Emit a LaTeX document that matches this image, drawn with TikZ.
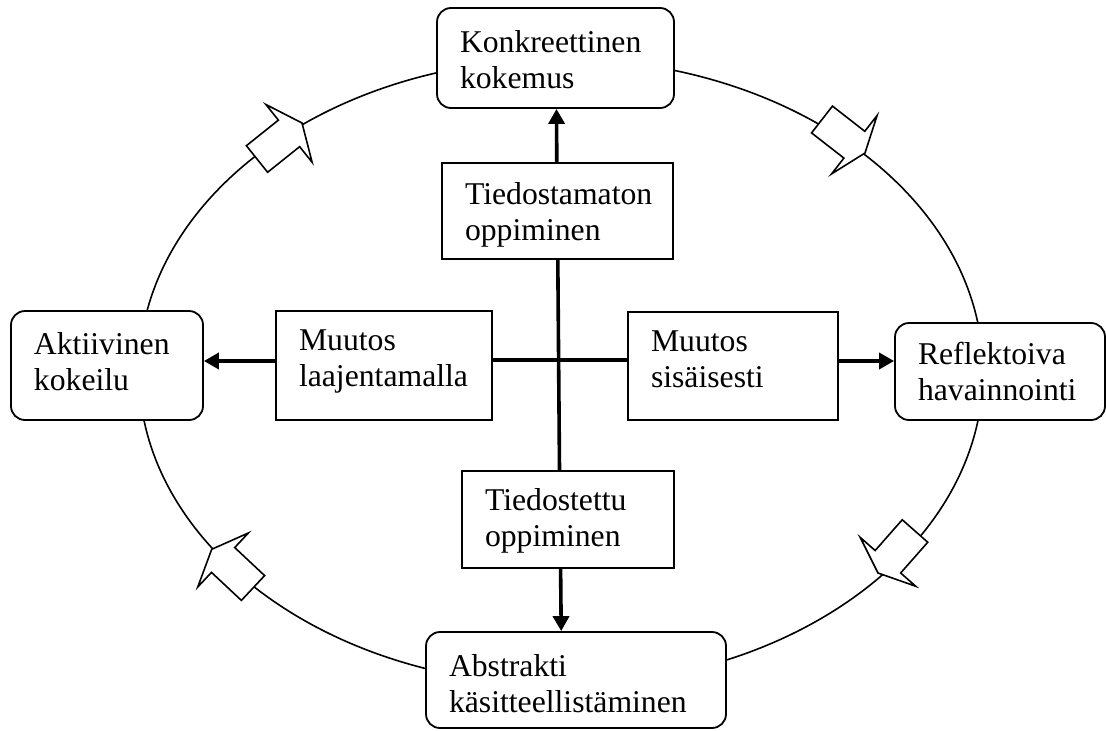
\documentclass[tikz,border=0pt]{standalone}
\usepackage{fontspec}
\setmainfont{Liberation Serif}
\usetikzlibrary{arrows.meta,calc}

% two-line label: box height, box width, distance of first baseline from top, line 1, line 2
\newcommand\boxtext[5]{%
  \parbox[c][#1][t]{#2}{\raggedright\leftskip=23pt\rule{0pt}{#3}#4\\#5}}

% hollow block arrow from back centre #1 to tip #2
\newcommand\blockarrow[2]{%
  \coordinate (ba-f) at ($(#1)!41pt!(#2)$);
  \draw[hollowarrow]
    ($(#1)!17pt!90:(#2)$) -- ($(ba-f)!17pt!90:(#2)$) -- ($(ba-f)!37pt!90:(#2)$)
    -- (#2)
    -- ($(ba-f)!37pt!-90:(#2)$) -- ($(ba-f)!17pt!-90:(#2)$) -- ($(#1)!17pt!-90:(#2)$)
    -- cycle;}

\tikzset{
  card/.style={draw, line width=1.8pt, fill=white, inner sep=0pt,
    font=\fontsize{31.7}{36}\selectfont},
  roundcard/.style={card, rounded corners=14pt},
  flow/.style={line width=3.6pt, -{Triangle[length=15pt,width=16pt]}},
  link/.style={line width=3.6pt},
  ring/.style={line width=1.6pt},
  hollowarrow/.style={draw, fill=white, line width=1.6pt, line join=miter}
}

\begin{document}
\begin{tikzpicture}[x=1pt, y=-1pt]
  \useasboundingbox (0,0) rectangle (1106,731);

  % learning cycle
  \draw[ring] (561,372) ellipse [x radius=422pt, y radius=313pt];

  % the four stages
  \node[roundcard] (konk) at (555.5,58)
    {\boxtext{100pt}{237pt}{44pt}{Konkreettinen}{kokemus}};
  \node[roundcard] (akt) at (107,365.5)
    {\boxtext{109pt}{192pt}{43pt}{Aktiivinen}{kokeilu}};
  \node[roundcard] (refl) at (1000,371.5)
    {\boxtext{97pt}{210pt}{41pt}{Reflektoiva}{havainnointi}};
  \node[roundcard] (abstr) at (576,680)
    {\boxtext{96pt}{300pt}{44pt}{Abstrakti}{käsitteellistäminen}};

  % inner boxes
  \node[card] (tiedA) at (557.5,211)
    {\boxtext{96pt}{231pt}{41pt}{Tiedostamaton}{oppiminen}};
  \node[card] (tiedB) at (568,519.5)
    {\boxtext{97pt}{212pt}{39pt}{Tiedostettu}{oppiminen}};
  \node[card] (laaj) at (384,365.5)
    {\boxtext{109pt}{216pt}{39pt}{Muutos}{laajentamalla}};
  \node[card] (sis) at (733,366)
    {\boxtext{108pt}{210pt}{39pt}{Muutos}{sisäisesti}};

  % axes
  \draw[flow] (tiedA.north -| 556.8,0) -- (konk.south -| 556.5,0);
  \draw[link] (tiedA.south -| 557.8,0) -- (tiedB.north -| 559.5,0);
  \draw[flow] (tiedB.south -| 560.6,0) -- (abstr.north -| 561.2,0);
  \draw[flow] (laaj.west |- 0,361) -- (akt.east |- 0,361);
  \draw[link] (laaj.east |- 0,360) -- (sis.west |- 0,360);
  \draw[flow] (sis.east |- 0,361) -- (refl.west |- 0,361);

  % direction marks on the cycle
  \coordinate (tlB) at (257,159);   \coordinate (tlT) at (302,123);
  \coordinate (trB) at (822,119.5); \coordinate (trT) at (865,153);
  \coordinate (brB) at (915,531);   \coordinate (brT) at (878,573);
  \coordinate (blB) at (253,588);   \coordinate (blT) at (211.7,549.3);
  \blockarrow{tlB}{tlT}
  \blockarrow{trB}{trT}
  \blockarrow{brB}{brT}
  \blockarrow{blB}{blT}
\end{tikzpicture}
\end{document}
